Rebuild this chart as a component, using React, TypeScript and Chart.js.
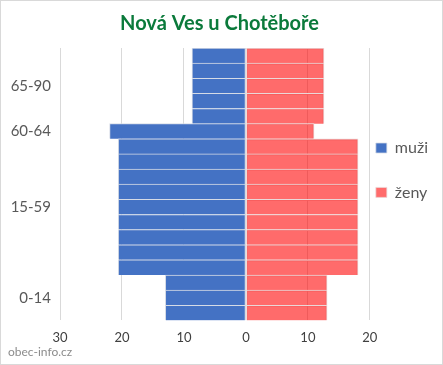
import React, { useEffect, useRef } from 'react';
import { Chart, registerables } from 'chart.js';

Chart.register(...registerables);

const chartTitle = 'Nová Ves u Chotěboře';
const watermark = 'obec-info.cz';
const seriesNames = ['muži', 'ženy'];
// one row per band, label on the middle row of each age group
const ageLabels = ['', '', '65-90', '', '', '60-64', '', '', '', '', '15-59', '', '', '', '', '', '0-14', ''];
const maleValues = [8.7, 8.7, 8.7, 8.7, 8.7, 22, 20.6, 20.6, 20.6, 20.6, 20.6, 20.6, 20.6, 20.6, 20.6, 13, 13, 13];
const femaleValues = [12.6, 12.6, 12.6, 12.6, 12.6, 11, 18.1, 18.1, 18.1, 18.1, 18.1, 18.1, 18.1, 18.1, 18.1, 13.1, 13.1, 13.1];
const xMin = -30;
const xMax = 20;
const xStep = 10;

const FONT = 'Lato, "Open Sans", sans-serif';

export default function App() {
  const ref = useRef<HTMLCanvasElement>(null);
  useEffect(() => {
    const watermarkPlugin = {
      id: 'watermark',
      afterDraw(chart: any) {
        const ctx = chart.ctx;
        ctx.save();
        ctx.font = `12px ${FONT}`;
        ctx.fillStyle = '#8c8c8c';
        ctx.textAlign = 'left';
        ctx.textBaseline = 'middle';
        ctx.fillText(watermark, 7, 351);
        ctx.restore();
      },
    };
    const chart = new Chart(ref.current!, {
      type: 'bar',
      data: {
        labels: ageLabels,
        datasets: [
          {
            label: seriesNames[0],
            data: maleValues.map((v) => -v),
            backgroundColor: '#4472C4',
            borderColor: '#d5dbe6',
            borderWidth: { top: 1, bottom: 0, left: 1, right: 1 },
            borderSkipped: false,
          },
          {
            label: seriesNames[1],
            data: femaleValues,
            backgroundColor: 'rgba(255,0,0,0.58)',
            borderColor: '#ead8d8',
            borderWidth: { top: 1, bottom: 0, left: 1, right: 1 },
            borderSkipped: false,
          },
        ],
      },
      options: {
        indexAxis: 'y',
        responsive: false,
        animation: false,
        layout: { padding: { left: 0, right: 4, top: 0, bottom: 8 } },
        datasets: { bar: { categoryPercentage: 1, barPercentage: 1 } },
        scales: {
          x: {
            stacked: true,
            min: xMin,
            max: xMax,
            ticks: {
              stepSize: xStep,
              callback: (v: any) => String(Math.abs(Number(v))),
              font: { family: FONT, size: 13 },
              color: '#404040',
              padding: 10,
            },
            grid: { color: '#d9d9d9', drawTicks: false },
            border: { display: false },
          },
          y: {
            stacked: true,
            afterFit: (s: any) => {
              s.width = 59;
            },
            ticks: {
              autoSkip: false,
              font: { family: FONT, size: 15 },
              color: '#595959',
              padding: 9,
            },
            grid: { display: false, drawTicks: false },
            border: { display: false },
          },
        },
        plugins: {
          title: {
            display: true,
            text: chartTitle,
            color: '#0b7a3b',
            font: { family: FONT, size: 20, weight: 'bold' },
            padding: { top: 11, bottom: 12 },
          },
          legend: {
            position: 'right',
            align: 'start',
            fullSize: false,
            title: { display: true, text: '', padding: { top: 71.6, bottom: 0 }, font: { size: 12 } },
            labels: {
              boxWidth: 11,
              boxHeight: 10,
              padding: 6,
              color: '#595959',
              font: { family: FONT, size: 16 },
              generateLabels: (c: any) => {
                const items = (Chart.defaults.plugins.legend.labels as any).generateLabels(c);
                items[0].text = [items[0].text, ''];
                return items;
              },
            },
          },
          tooltip: { enabled: false },
        },
      },
      plugins: [watermarkPlugin],
    } as any);
    return () => chart.destroy();
  }, []);
  return (
    <div
      style={{
        position: 'absolute',
        left: 0,
        top: 0,
        width: 443,
        height: 365,
        boxSizing: 'border-box',
        border: '1px solid #d9d9d9',
        background: '#fff',
      }}
    >
      <canvas ref={ref} width={441} height={363} style={{ display: 'block' }} />
    </div>
  );
}
